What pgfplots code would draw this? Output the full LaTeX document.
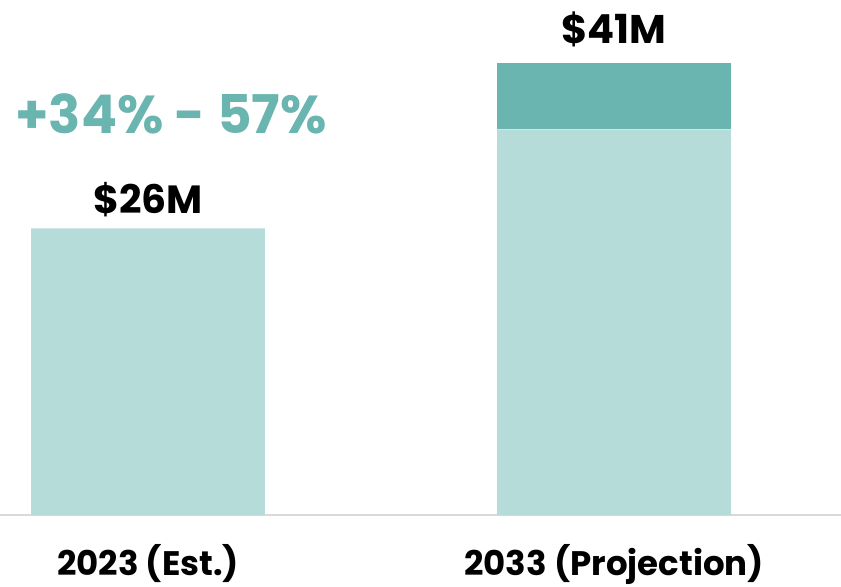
\documentclass[border=0pt]{standalone}
\usepackage{pgfplots}
\pgfplotsset{compat=1.18}
\usepackage{fontspec}
\setmainfont{Poppins}
\definecolor{lightteal}{HTML}{B6DCDA}
\definecolor{darkteal}{HTML}{6AB5AF}
\definecolor{axisgray}{HTML}{D9D9D9}
\begin{document}
\begin{tikzpicture}
\begin{axis}[
  scale only axis,
  width=630.75pt, height=386.25pt,
  xmin=-0.3176, xmax=1.4871, ymin=0, ymax=46.73,
  ybar stacked, bar width=0.502,
  axis x line*=bottom, axis y line=none,
  x axis line style={-, axisgray, line width=1.5pt},
  xtick={0,1}, xticklabels={2023 (Est.), 2033 (Projection)},
  major tick length=0pt, ytick=\empty,
  xticklabel style={anchor=base, yshift=-45pt, font=\bfseries\fontsize{25.5}{26}\selectfont},
  clip=false,
]
\addplot[fill=lightteal, draw=none] coordinates {(0,26) (1,35)};
\addplot[fill=darkteal, draw=none] coordinates {(0,0) (1,6)};
\node[anchor=base, font=\bfseries\fontsize{29.5}{30}\selectfont, yshift=11pt] at (axis cs:0,26) {\$26M};
\node[anchor=base, font=\bfseries\fontsize{30}{30}\selectfont, yshift=15pt] at (axis cs:1,41) {\$41M};
\node[anchor=base, font=\bfseries\fontsize{30}{30}\selectfont] at (axis cs:1,15.87) {\$35M};
\node[anchor=base west, inner sep=0pt, text=darkteal, font=\bfseries\fontsize{40}{40}\selectfont] at (axis cs:-0.2854,34.65) {+34\% - 57\%};
\end{axis}
\pgfresetboundingbox
\path (current axis.south west) ++(0,-53.25pt) rectangle (current axis.north east);
\end{tikzpicture}
\end{document}
